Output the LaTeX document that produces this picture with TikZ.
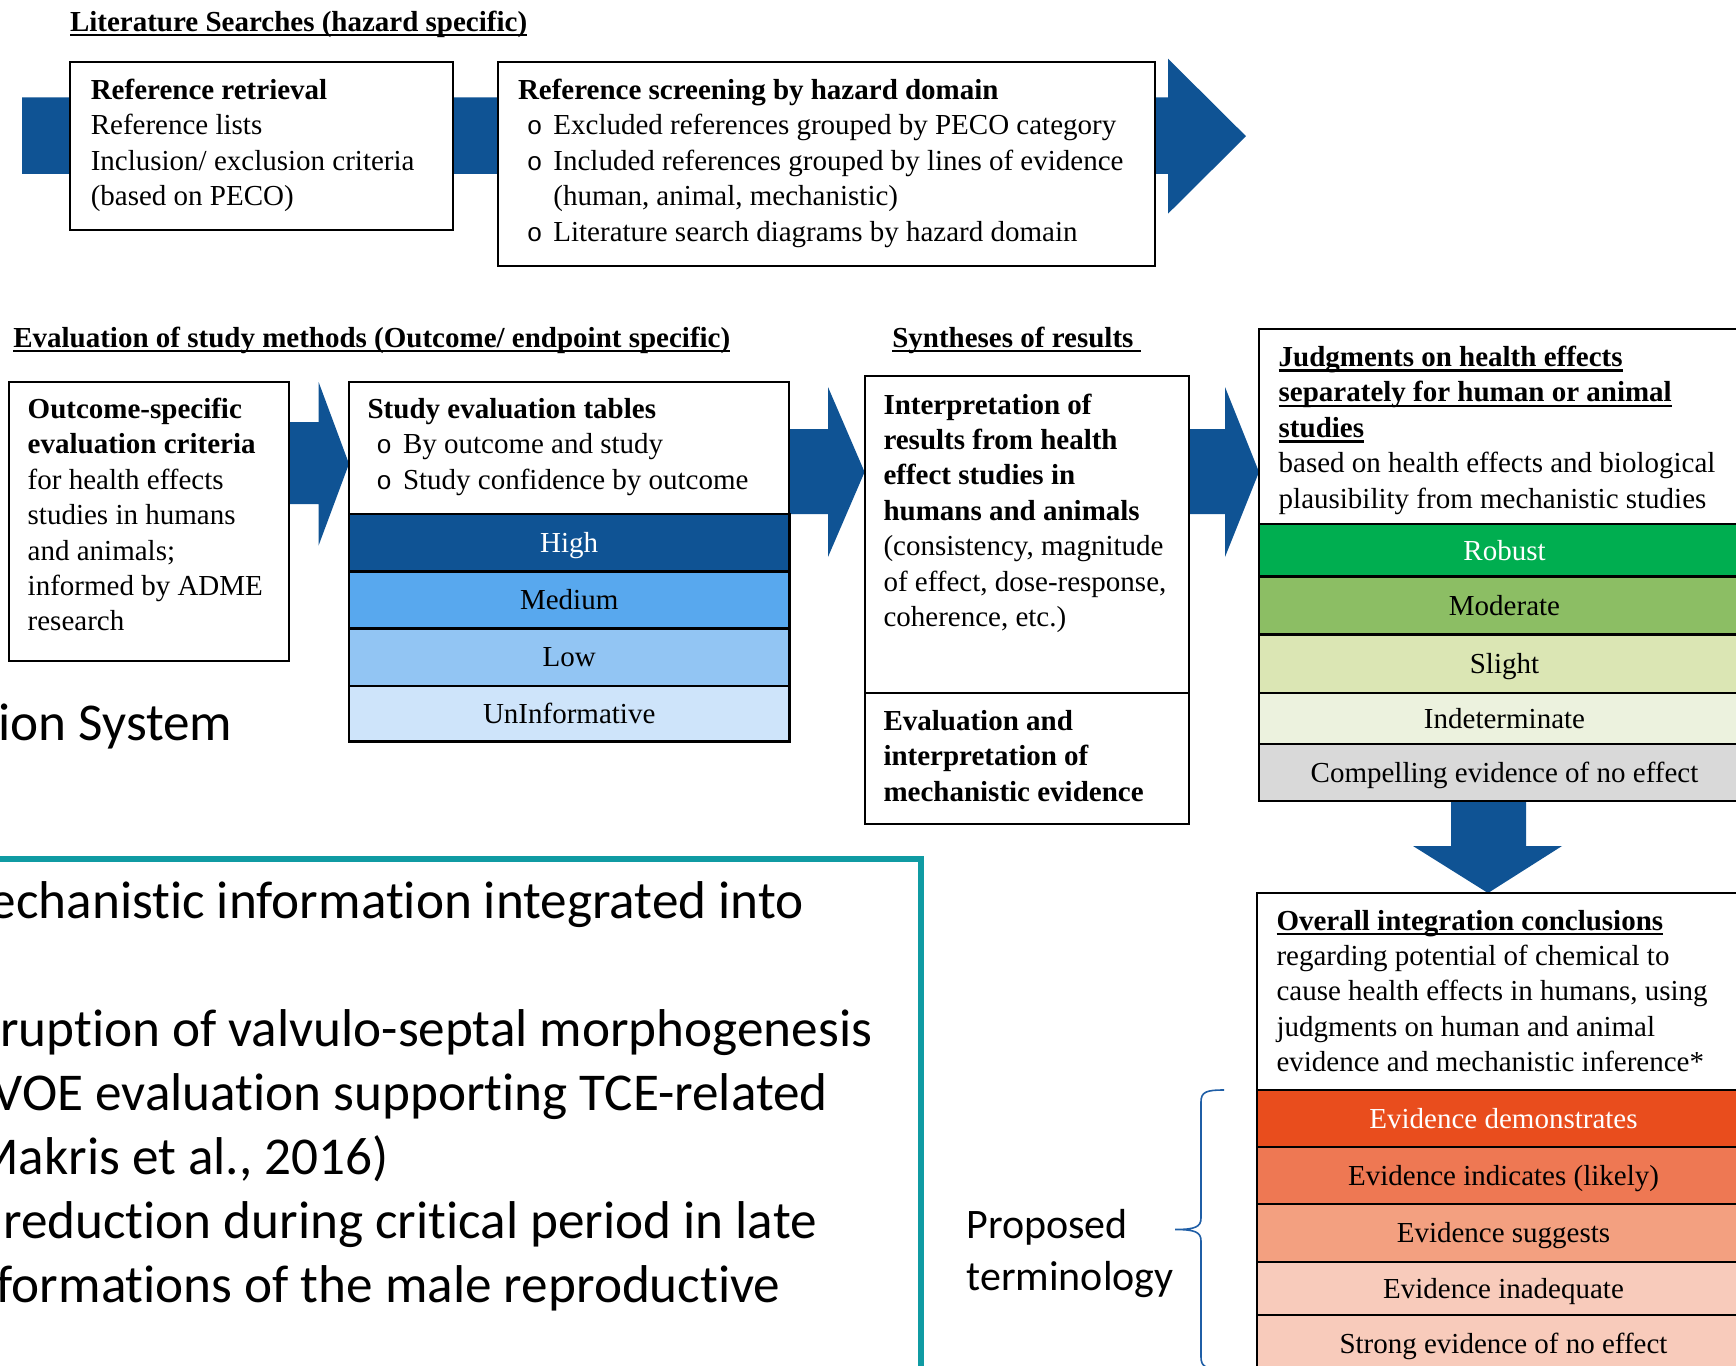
\documentclass[tikz,border=0pt]{standalone}
\usepackage{fontspec}
\setmainfont{Liberation Serif}
\newfontfamily\calfont[Ligatures=NoCommon]{Carlito}
\newfontfamily\bulfont{Liberation Mono}
\usetikzlibrary{backgrounds}
\definecolor{arrowblue}{RGB}{15,83,148}
\definecolor{highc}{RGB}{15,83,148}
\definecolor{medc}{RGB}{88,168,238}
\definecolor{lowc}{RGB}{146,197,243}
\definecolor{uninfc}{RGB}{206,228,250}
\definecolor{robc}{RGB}{0,174,80}
\definecolor{modc}{RGB}{140,190,100}
\definecolor{slic}{RGB}{219,230,180}
\definecolor{indc}{RGB}{236,242,222}
\definecolor{compc}{RGB}{217,217,217}
\definecolor{demc}{RGB}{233,77,29}
\definecolor{indic}{RGB}{238,120,83}
\definecolor{sugc}{RGB}{243,160,128}
\definecolor{inadc}{RGB}{248,203,187}
\definecolor{tealc}{RGB}{16,155,163}
\definecolor{bracec}{RGB}{31,94,166}
\newcommand\myul[1]{\setbox0\hbox{#1}\rlap{\rule[-2.6pt]{\wd0}{1.3pt}}\box0}
\newcommand\bul{\hspace*{4.4pt}\makebox[13.3pt][l]{\bulfont\fontsize{13}{17.7}\selectfont o}}
\newcommand\contind{\hspace*{17.7pt}}
\newcommand\pbox[7]{%
  \pgfmathsetmacro\bw{(#4-(#2))*0.5}%
  \pgfmathsetmacro\bh{(#5-(#3))*0.5}%
  \node[#6, anchor=north west, minimum width=\bw pt, minimum height=\bh pt] (#1) at (#2,#3) {#7};}
\tikzset{
  every node/.style={inner sep=0pt, outer sep=0pt},
  boxtext/.style={anchor=base west, font=\fontsize{14.5}{17.7}\selectfont},
  frame/.style={draw=black, line width=1pt, fill=white},
  rowbox/.style={draw=black, line width=1.4pt, font=\fontsize{14.5}{17.7}\selectfont, align=center, text height=12.6pt, text depth=3pt},
  blockarrow/.style={fill=arrowblue},
  titletext/.style={anchor=base west, font=\fontsize{14.5}{17.7}\selectfont\bfseries},
  slide/.style={anchor=base east, font=\calfont\fontsize{26.6}{32}\selectfont},
}
\begin{document}
\begin{tikzpicture}[x=0.5pt,y=-0.5pt]
\useasboundingbox (0,0) rectangle (1736,1366);
\clip (0,0) rectangle (1736,1366);

% ---------- slide remnants ----------
\draw[tealc, line width=2.75pt] (-40,1420) -- (-40,859) -- (921,859) -- (921,1420);
\node[slide] (s0) at (232.5,740.3) {ion System};
\node[slide] (s1) at (803.8,918.6) {echanistic information integrated into};
\node[slide] (s2) at (872.4,1046) {ruption of valvulo-septal morphogenesis};
\node[slide] (s3) at (828,1110) {VOE evaluation supporting TCE-related};
\node[slide] (s4) at (388.6,1174.3) {Makris et al., 2016)};
\node[slide] (s5) at (817,1238.5) {reduction during critical period in late};
\node[slide] (s6) at (780.5,1302.8) {formations of the male reproductive};

% ---------- titles ----------
\node[titletext] (h1) at (70,31) {\myul{Literature Searches (hazard specific)}};
\node[titletext] (h2) at (13.3,347) {\myul{Evaluation of study methods (Outcome/ endpoint specific)}};
\node[titletext] (h3) at (892.3,347) {\myul{Syntheses of results\ }};

% ---------- top boxes ----------
\pbox{b1}{70}{62}{453}{230}{frame}{}
\node[boxtext] (t1) at (90.8,99.5) {\begin{tabular}[t]{@{}l@{}}\textbf{Reference retrieval}\\Reference lists\\Inclusion/ exclusion criteria\\(based on PECO)\end{tabular}};
\pbox{b2}{498}{62}{1155}{266}{frame}{}
\node[boxtext] (t2) at (518,99.5) {\begin{tabular}[t]{@{}l@{}}\textbf{Reference screening by hazard domain}\\
\bul Excluded references grouped by PECO category\\
\bul Included references grouped by lines of evidence\\
\contind(human, animal, mechanistic)\\
\bul Literature search diagrams by hazard domain\end{tabular}};

% ---------- evaluation ----------
\pbox{b3}{9}{382}{289}{661}{frame}{}
\node[boxtext] (t3) at (27.7,418.5) {\begin{tabular}[t]{@{}l@{}}\textbf{Outcome-specific}\\\textbf{evaluation criteria}\\for health effects\\studies in humans\\and animals;\\informed by ADME\\research\end{tabular}};
\pbox{b4}{349}{382}{789.4}{514}{frame}{}
\node[boxtext] (t4) at (367.6,418.5) {\begin{tabular}[t]{@{}l@{}}\textbf{Study evaluation tables}\\
\bul By outcome and study\\
\bul Study confidence by outcome\end{tabular}};
\pbox{high}{349}{514}{789.4}{571.5}{rowbox, fill=highc, text=white}{High}
\pbox{med}{349}{571.5}{789.4}{628.4}{rowbox, fill=medc}{Medium}
\pbox{low}{349}{628.4}{789.4}{686}{rowbox, fill=lowc}{Low}
\pbox{uninf}{349}{686}{789.4}{741.7}{rowbox, fill=uninfc}{UnInformative}

% ---------- syntheses ----------
\pbox{b5}{864.6}{376}{1189}{693}{frame}{}
\node[boxtext] (t5) at (883.5,414) {\begin{tabular}[t]{@{}l@{}}\textbf{Interpretation of}\\\textbf{results from health}\\\textbf{effect studies in}\\\textbf{humans and animals}\\(consistency, magnitude\\of effect, dose-response,\\coherence, etc.)\end{tabular}};
\pbox{b6}{864.6}{693}{1189}{823.5}{frame}{}
\node[boxtext] (t6) at (883.5,730.5) {\begin{tabular}[t]{@{}l@{}}\textbf{Evaluation and}\\\textbf{interpretation of}\\\textbf{mechanistic evidence}\end{tabular}};

% ---------- judgments ----------
\pbox{b7}{1259}{328.5}{1750}{524}{frame}{}
\node[boxtext] (t7) at (1278.7,366.5) {\begin{tabular}[t]{@{}l@{}}\textbf{\myul{Judgments on health effects}}\\\textbf{\myul{separately for human or animal}}\\\textbf{\myul{studies}}\\based on health effects and biological\\plausibility from mechanistic studies\end{tabular}};
\pbox{rob}{1259}{524}{1750}{576.8}{rowbox, fill=robc, text=white}{Robust}
\pbox{mod}{1259}{576.8}{1750}{634.4}{rowbox, fill=modc}{Moderate}
\pbox{sli}{1259}{634.4}{1750}{693}{rowbox, fill=slic}{Slight}
\pbox{ind}{1259}{693}{1750}{744}{rowbox, fill=indc}{Indeterminate}
\pbox{comp}{1259}{744}{1750}{801}{rowbox, fill=compc}{Compelling evidence of no effect}

% ---------- overall ----------
\pbox{b8}{1257}{893}{1750}{1090}{frame}{}
\node[boxtext] (t8) at (1276.5,930) {\begin{tabular}[t]{@{}l@{}}\textbf{\myul{Overall integration conclusions}}\\regarding potential of chemical to\\cause health effects in humans, using\\judgments on human and animal\\evidence and mechanistic inference*\end{tabular}};
\pbox{dem}{1257}{1090}{1750}{1147}{rowbox, fill=demc, text=white}{Evidence demonstrates}
\pbox{indi}{1257}{1147}{1750}{1204}{rowbox, fill=indic}{Evidence indicates (likely)}
\pbox{sug}{1257}{1204}{1750}{1262}{rowbox, fill=sugc}{Evidence suggests}
\pbox{inad}{1257}{1262}{1750}{1315}{rowbox, fill=inadc}{Evidence inadequate}
\pbox{strong}{1257}{1315}{1750}{1372}{rowbox, fill=inadc}{Strong evidence of no effect}

% ---------- proposed terminology ----------
\node[anchor=base west, font=\calfont\fontsize{21}{26}\selectfont] (prop) at (966.5,1238.5) {\begin{tabular}[t]{@{}l@{}}Proposed\\terminology\end{tabular}};
\draw[bracec, line width=0.8pt] (dem.north west -| 1224,0) .. controls (1206,1090) and (1201,1092) .. (1201,1102) -- (1201,1218) .. controls (1201,1227) and (1195,1229.5) .. (1175,1229.5) .. controls (1195,1229.5) and (1201,1232) .. (1201,1241) -- (1201,1357) .. controls (1201,1367) and (1206,1369) .. (1224,1369);

% ---------- block arrows (behind boxes) ----------
\begin{scope}[on background layer]
\fill[white] (0,0) rectangle (1736,1366);
\coordinate (start) at (22,135.6);
\fill[blockarrow] (start |- 0,97.4) -- (1168,97.4) -- (1168,58.7) -- (1246,136.2) -- (1168,213.7) -- (1168,173.8) -- (start |- 0,173.8) -- cycle;
\fill[blockarrow] (b3.east |- 0,422) -- (318.6,422) -- (318.6,382) -- (b4.west |- 0,463.8) -- (318.6,545.5) -- (318.6,504) -- (b3.east |- 0,504) -- cycle;
\fill[blockarrow] (b4.east |- 0,429) -- (828,429) -- (828,387) -- (b5.west |- 0,472) -- (828,557) -- (828,514) -- (b4.east |- 0,514) -- cycle;
\fill[blockarrow] (b5.east |- 0,429) -- (1225,429) -- (1225,387) -- (b7.west |- 0,472) -- (1225,557) -- (1225,514) -- (b5.east |- 0,514) -- cycle;
\fill[blockarrow] (comp.south -| 1451,0) -- (1451,846) -- (1413,846) -- (b8.north -| 1488,0) -- (1562,846) -- (1526,846) -- (comp.south -| 1526,0) -- cycle;
\end{scope}
\end{tikzpicture}
\end{document}
